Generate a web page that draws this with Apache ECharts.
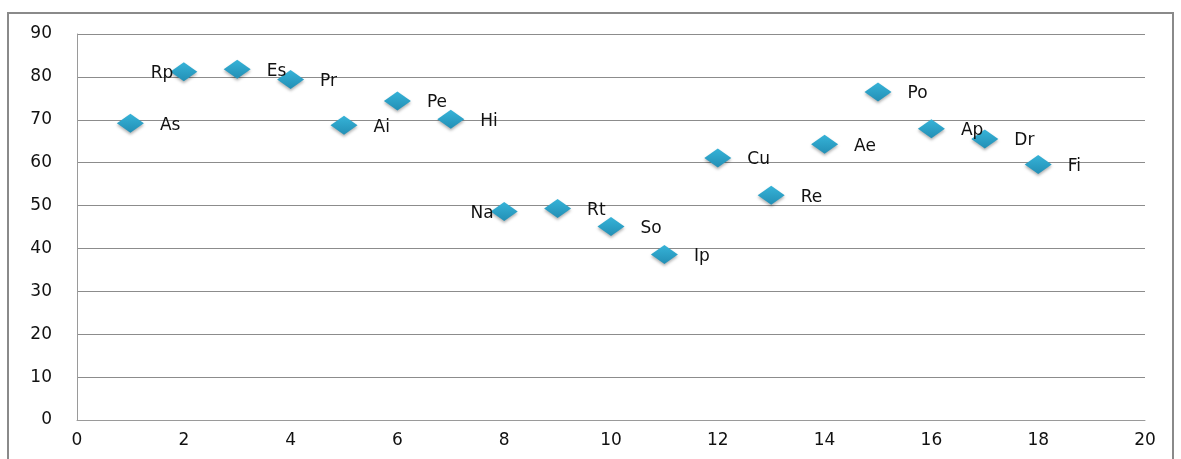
<!DOCTYPE html>
<html><head><meta charset="utf-8">
<script src="https://cdn.jsdelivr.net/npm/echarts@6/dist/echarts.min.js"></script>
<style>html,body{margin:0;padding:0;background:#fff}#c{width:1181px;height:459px}</style>
</head><body><div id="c"></div>
<script>
const names = ["As","Rp","Es","Pr","Ai","Pe","Hi","Na","Rt","So","Ip","Cu","Re","Ae","Po","Ap","Dr","Fi"];
const xValues = [1,2,3,4,5,6,7,8,9,10,11,12,13,14,15,16,17,18];
const yValues = [69.2,81.2,81.8,79.4,68.7,74.4,70.1,48.6,49.3,45.1,38.6,61.1,52.4,64.3,76.5,67.9,65.5,59.6];
const leftLabels = ["Rp","Na"];

const chart = echarts.init(document.getElementById('c'), null, {renderer:'canvas'});
const font = "DejaVu Sans";
const data = names.map((n,i)=>{
  const left = leftLabels.includes(n);
  return {
    value:[xValues[i], yValues[i]],
    name:n,
    label: left ? {position:'left', distance:-3} : {position:'right', distance:16}
  };
});
chart.setOption({
  animation:false,
  graphic:[{type:'rect', shape:{x:8,y:13,width:1165,height:520}, style:{fill:'none', stroke:'#8a8a8a', lineWidth:2}, silent:true}],
  grid:{left:77, right:36, top:34, bottom:39},
  xAxis:{type:'value', min:0, max:20, interval:2,
    axisLine:{show:true, onZero:false, lineStyle:{color:'#9a9a9a', width:1}},
    axisTick:{show:false}, splitLine:{show:false},
    axisLabel:{color:'#111', fontFamily:font, fontSize:17, margin:12}},
  yAxis:{type:'value', min:0, max:90, interval:10,
    axisLine:{show:true, lineStyle:{color:'#9a9a9a', width:1}},
    axisTick:{show:false},
    splitLine:{show:true, lineStyle:{color:'#8c8c8c', width:1}},
    axisLabel:{color:'#111', fontFamily:font, fontSize:17, margin:25}},
  series:[{
    type:'scatter', symbol:'diamond', symbolSize:[27,19],
    itemStyle:{
      opacity:1,
      color:new echarts.graphic.LinearGradient(0,0,0,1,[{offset:0,color:'#36b3d8'},{offset:1,color:'#238fb5'}]),
      shadowColor:'rgba(0,0,0,0.3)', shadowBlur:3, shadowOffsetY:2
    },
    label:{show:true, formatter:p=>p.name, color:'#111', fontFamily:font, fontSize:17, offset:[0,2]},
    data:data
  }]
});
</script></body></html>
